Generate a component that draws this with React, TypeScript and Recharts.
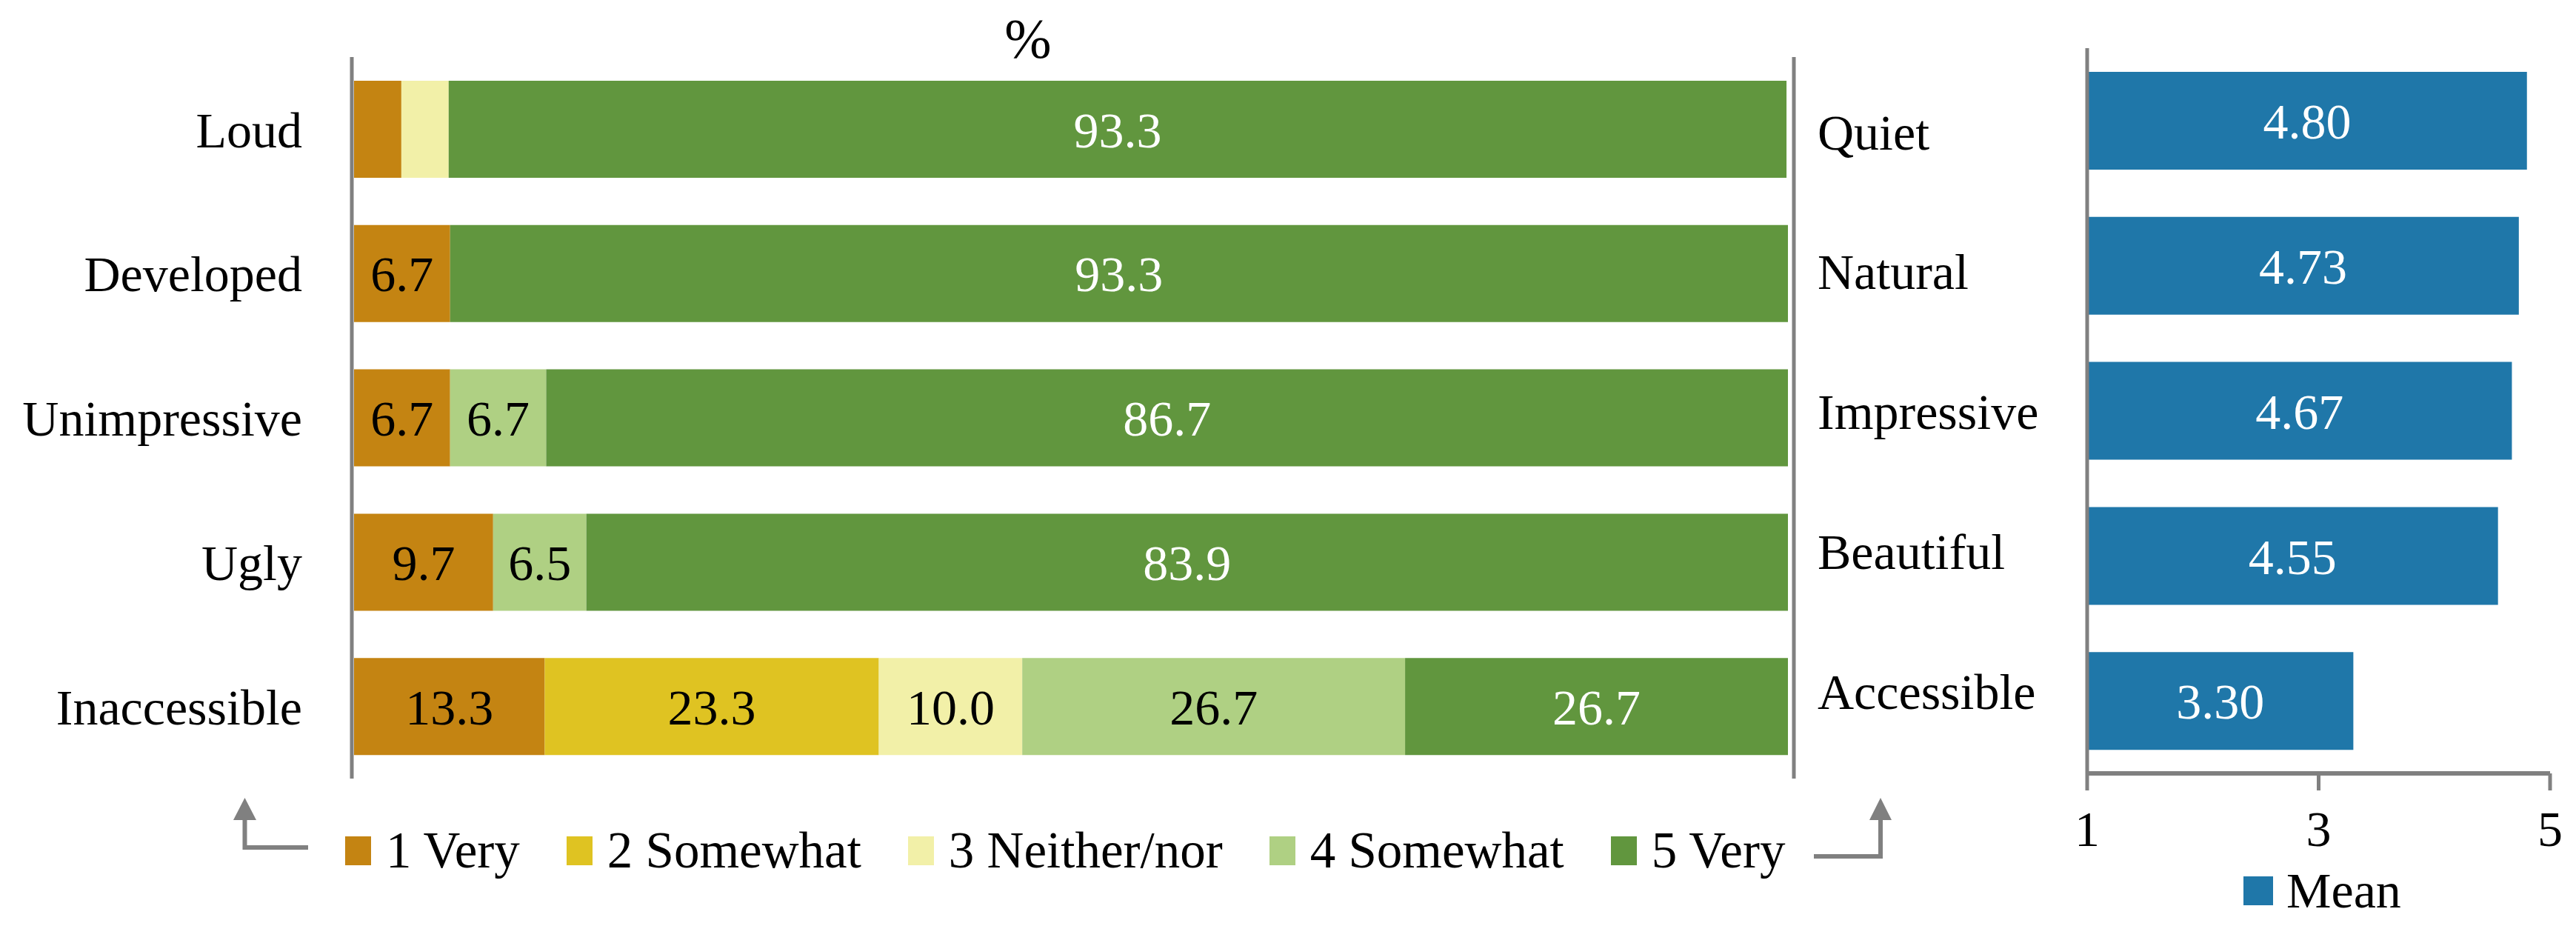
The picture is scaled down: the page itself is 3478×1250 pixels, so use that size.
import React from 'react';
import { BarChart, Bar, XAxis, YAxis, LabelList } from 'recharts';

// left chart: share of answers (%), one row per negative adjective
const categories = ['Loud', 'Developed', 'Unimpressive', 'Ugly', 'Inaccessible'];
const opposites = ['Quiet', 'Natural', 'Impressive', 'Beautiful', 'Accessible'];
const veryNeg = [3.3, 6.7, 6.7, 9.7, 13.3];
const somewhatNeg = [0, 0, 0, 0, 23.3];
const neither = [3.3, 0, 0, 0, 10.0];
const somewhatPos = [0, 0, 6.7, 6.5, 26.7];
const veryPos = [93.3, 93.3, 86.7, 83.9, 26.7];

// right chart: mean score on 1..5
const means = [4.8, 4.73, 4.67, 4.55, 3.3];
const meanTicks = [1, 3, 5];

const scaleKeys = ['v1', 'v2', 'v3', 'v4', 'v5'];
const scaleLabels = ['1 Very', '2 Somewhat', '3 Neither/nor', '4 Somewhat', '5 Very'];
const scaleColors = ['#C48412', '#DFC322', '#F2F0A8', '#AFD083', '#61963E'];
const labelColors = ['#000', '#000', '#000', '#000', '#fff'];
const MEAN_COLOR = '#1F77A9';

const FONT = '"Liberation Serif", "Times New Roman", serif';
const GREY = '#808080';

const percentData = categories.map((name, i) => ({
    name,
    opposite: opposites[i],
    v1: veryNeg[i],
    v2: somewhatNeg[i],
    v3: neither[i],
    v4: somewhatPos[i],
    v5: veryPos[i],
}));

const meanData = opposites.map((name, i) => ({ name, mean: means[i] }));

const LegendItem = ({ color, label, last }: { color: string; label: string; last?: boolean }) => (
    <div style={{ display: 'flex', alignItems: 'center', marginRight: last ? 0 : 63 }}>
        <span style={{ display: 'inline-block', width: 35, height: 39, background: color, marginRight: 20 }} />
        <span style={{ fontSize: 69, lineHeight: '68px', whiteSpace: 'nowrap', color: '#000' }}>{label}</span>
    </div>
);

export default function App() {
    return (
        <div
            style={{
                position: 'absolute',
                left: 0,
                top: 0,
                width: 3478,
                height: 1250,
                background: '#fff',
                fontFamily: FONT,
                overflow: 'hidden',
            }}
        >
            <div style={{ position: 'absolute', left: 0, top: 0 }}>
                <BarChart
                    layout="vertical"
                    width={2802}
                    height={1250}
                    data={percentData}
                    margin={{ top: 77, right: 0, bottom: 199, left: 0 }}
                >
                    <XAxis type="number" domain={[0, 100]} allowDataOverflow hide padding={{ left: 3, right: 8 }} />
                    <YAxis
                        type="category"
                        dataKey="name"
                        width={475}
                        interval={0}
                        tickLine={false}
                        tickSize={0}
                        tickMargin={67}
                        axisLine={{ stroke: GREY, strokeWidth: 5 }}
                        tick={{ fill: '#000', fontSize: 68 }}
                    />
                    <YAxis
                        yAxisId="opp"
                        orientation="right"
                        type="category"
                        dataKey="opposite"
                        width={380}
                        interval={0}
                        tickLine={false}
                        tickSize={0}
                        tickMargin={32}
                        padding={{ top: 6, bottom: 24 }}
                        axisLine={{ stroke: GREY, strokeWidth: 5 }}
                        tick={{ fill: '#000', fontSize: 68 }}
                    />
                    {scaleKeys.map((k, i) => (
                        <Bar key={k} dataKey={k} stackId="s" fill={scaleColors[i]} barSize={131} isAnimationActive={false}>
                            <LabelList
                                dataKey={k}
                                position="center"
                                fill={labelColors[i]}
                                fontSize={68}
                                formatter={(v: any) => (Number(v) >= 5 ? Number(v).toFixed(1) : '')}
                            />
                        </Bar>
                    ))}
                </BarChart>
            </div>

            <div style={{ position: 'absolute', left: 2700, top: 0 }}>
                <BarChart
                    layout="vertical"
                    width={778}
                    height={1250}
                    data={meanData}
                    margin={{ top: 65, right: 35, bottom: 106, left: 117 }}
                >
                    <XAxis
                        type="number"
                        domain={[1, 5]}
                        ticks={meanTicks}
                        interval={0}
                        height={100}
                        axisLine={{ stroke: GREY, strokeWidth: 6 }}
                        tickLine={{ stroke: GREY, strokeWidth: 5 }}
                        tickSize={23}
                        tickMargin={27}
                        tick={{ fill: '#000', fontSize: 68 }}
                    />
                    <YAxis
                        type="category"
                        dataKey="name"
                        width={1}
                        tick={false}
                        tickLine={false}
                        axisLine={{ stroke: GREY, strokeWidth: 5 }}
                    />
                    <Bar dataKey="mean" fill={MEAN_COLOR} barSize={132} isAnimationActive={false}>
                        <LabelList
                            dataKey="mean"
                            position="center"
                            fill="#fff"
                            fontSize={68}
                            formatter={(v: any) => Number(v).toFixed(2)}
                        />
                    </Bar>
                </BarChart>
            </div>

            {/* "%" header and the two arrows pointing from legend to the axes */}
            <svg
                width={3478}
                height={1250}
                style={{ position: 'absolute', left: 0, top: 0, pointerEvents: 'none' }}
            >
                <text x={1388} y={78} textAnchor="middle" fontSize={76} fill="#000">
                    %
                </text>
                <path d="M416,1144 L330.5,1144 L330.5,1100" fill="none" stroke={GREY} strokeWidth={6} />
                <polygon points="315,1107 346,1107 330.5,1077" fill={GREY} />
                <path d="M2449,1156 L2539,1156 L2539,1100" fill="none" stroke={GREY} strokeWidth={6} />
                <polygon points="2524,1107 2554,1107 2539,1077" fill={GREY} />
            </svg>

            <div style={{ position: 'absolute', left: 466, top: 1114, height: 68, display: 'flex', alignItems: 'center' }}>
                {scaleLabels.map((l, i) => (
                    <LegendItem key={l} color={scaleColors[i]} label={l} last={i === scaleLabels.length - 1} />
                ))}
            </div>

            <div style={{ position: 'absolute', left: 3029, top: 1168, height: 68, display: 'flex', alignItems: 'center' }}>
                <span style={{ display: 'inline-block', width: 40, height: 39, background: MEAN_COLOR, marginRight: 18 }} />
                <span style={{ fontSize: 68, lineHeight: '68px', color: '#000' }}>Mean</span>
            </div>
        </div>
    );
}
